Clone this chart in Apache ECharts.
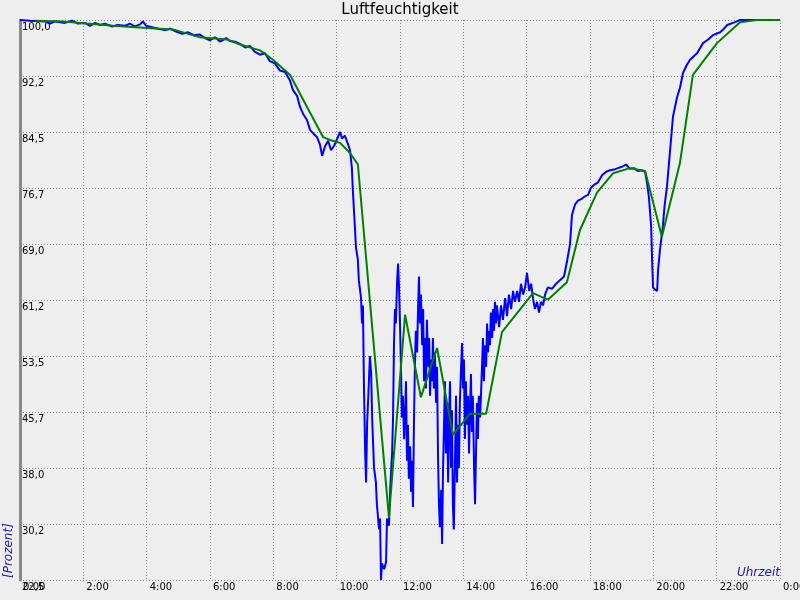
<!DOCTYPE html>
<html>
<head>
<meta charset="utf-8">
<script src="https://cdn.jsdelivr.net/npm/echarts@6/dist/echarts.min.js"></script>
<style>
html,body{margin:0;padding:0;background:#eeeeee;}
#c{width:800px;height:600px;}
</style>
</head>
<body>
<div id="c"></div>
<script>
// Time in hours since midnight
var blueTimes = [0.00,0.32,0.79,0.95,1.11,1.42,1.64,1.83,2.05,2.21,2.37,2.53,2.68,2.91,3.09,3.32,3.47,3.63,3.79,3.88,3.98,4.17,4.36,4.58,4.74,4.93,5.12,5.31,5.49,5.68,5.84,6.00,6.16,6.32,6.51,6.63,6.79,6.95,7.11,7.26,7.42,7.58,7.74,7.89,8.05,8.21,8.37,8.53,8.62,8.75,8.84,8.94,9.06,9.16,9.28,9.38,9.47,9.54,9.63,9.73,9.82,9.92,10.01,10.11,10.17,10.26,10.36,10.42,10.48,10.51,10.58,10.61,10.67,10.70,10.77,10.80,10.83,10.86,10.90,10.93,10.96,11.00,11.05,11.09,11.12,11.18,11.24,11.27,11.34,11.37,11.40,11.43,11.50,11.56,11.59,11.65,11.69,11.75,11.78,11.81,11.84,11.87,11.91,11.94,11.97,12.00,12.03,12.06,12.09,12.13,12.16,12.19,12.22,12.25,12.28,12.32,12.35,12.38,12.41,12.44,12.47,12.50,12.54,12.57,12.60,12.63,12.66,12.70,12.73,12.76,12.79,12.82,12.85,12.89,12.92,12.95,12.98,13.01,13.04,13.07,13.10,13.14,13.17,13.20,13.23,13.26,13.30,13.33,13.36,13.39,13.42,13.45,13.49,13.52,13.55,13.58,13.61,13.64,13.67,13.70,13.74,13.77,13.80,13.83,13.86,13.89,13.93,13.96,13.99,14.02,14.05,14.08,14.11,14.15,14.18,14.21,14.24,14.27,14.30,14.34,14.37,14.40,14.43,14.46,14.49,14.53,14.59,14.62,14.65,14.68,14.72,14.75,14.78,14.81,14.84,14.87,14.91,14.94,14.97,15.00,15.03,15.06,15.13,15.19,15.25,15.32,15.38,15.44,15.51,15.57,15.63,15.70,15.76,15.82,15.89,15.95,16.01,16.08,16.14,16.20,16.26,16.33,16.39,16.45,16.52,16.58,16.67,16.80,16.93,17.05,17.18,17.27,17.37,17.43,17.53,17.62,17.72,17.84,17.94,18.03,18.16,18.25,18.38,18.51,18.63,18.76,18.88,19.01,19.14,19.26,19.39,19.51,19.64,19.74,19.80,19.86,19.93,19.96,19.99,20.05,20.12,20.15,20.21,20.30,20.36,20.43,20.53,20.62,20.75,20.84,20.94,21.06,21.16,21.38,21.57,21.73,21.88,22.11,22.23,22.33,22.58,22.74,24.00];
var blueHumidity = [100.0,99.9,99.8,99.5,99.8,99.6,99.9,99.5,99.6,99.2,99.6,99.3,99.5,99.1,99.3,99.2,99.5,99.1,99.4,99.8,99.2,99.0,98.8,98.6,98.8,98.4,98.1,98.3,97.9,98.0,97.5,97.2,97.6,97.0,97.5,97.1,97.0,96.7,96.2,96.4,95.6,95.2,95.4,94.3,94.0,93.0,92.8,91.6,90.3,89.5,88.0,87.0,86.2,84.8,84.2,83.8,82.8,81.2,82.5,83.3,82.0,82.6,83.5,84.5,83.6,84.0,82.8,82.0,79.6,76.5,71.0,68.5,66.8,64.0,61.5,58.0,60.5,50.0,40.0,36.0,44.0,48.0,53.5,51.0,45.0,38.0,36.0,33.0,29.5,31.0,22.5,24.8,24.0,25.0,31.0,30.0,35.0,40.0,45.0,55.0,60.0,58.0,64.0,66.3,63.0,58.0,52.0,45.0,48.0,42.0,45.5,50.0,39.0,44.0,36.5,41.0,34.7,39.0,32.6,44.0,52.0,57.0,54.0,60.0,64.5,58.0,62.0,55.0,60.0,50.0,56.0,49.0,58.5,52.0,56.0,48.0,53.0,50.0,56.0,49.0,54.0,47.0,52.0,40.0,33.0,29.8,35.0,27.5,38.0,44.0,50.0,40.0,47.0,36.0,45.0,50.0,38.0,46.0,33.0,29.5,40.0,48.0,36.0,44.0,38.0,47.0,52.0,55.3,49.0,53.0,42.0,50.0,44.0,48.0,40.0,46.0,51.0,43.0,48.0,38.0,33.0,40.0,47.0,42.0,48.0,45.0,52.0,56.0,50.0,55.0,52.0,58.0,54.0,57.0,55.0,59.5,56.0,60.0,57.0,61.0,58.0,60.5,57.5,60.5,58.5,61.5,59.0,62.0,60.0,62.5,61.0,62.5,61.0,63.5,62.0,63.0,65.0,62.5,63.5,61.5,60.0,61.0,59.5,61.0,60.5,62.0,63.0,62.8,63.5,64.0,64.5,66.5,69.0,73.0,74.5,75.0,75.2,75.6,75.8,76.8,77.3,77.5,78.5,79.0,79.2,79.3,79.5,79.7,80.0,79.4,79.5,79.1,79.2,79.0,77.5,75.5,71.5,67.0,63.0,62.7,62.5,65.4,68.2,71.4,74.5,76.9,82.0,86.6,89.3,90.6,92.7,93.8,94.5,95.4,96.8,97.3,97.9,98.3,98.8,99.3,99.7,100.0,100.0];

var greenTimes = [0.47,1.36,2.12,2.94,4.01,4.83,5.68,6.54,6.95,7.58,7.99,8.53,9.06,9.57,9.79,10.11,10.42,10.67,11.65,12.16,12.66,13.17,13.67,14.21,14.72,15.22,16.20,16.67,17.27,17.68,18.22,18.73,19.26,19.74,20.27,20.84,21.25,22.01,22.74,23.27,24.00];
var greenHumidity = [99.9,99.8,99.5,99.2,98.9,98.7,97.6,97.3,96.6,95.8,94.5,92.4,88.0,83.8,83.4,83.0,81.6,80.0,31.2,59.2,47.8,54.6,42.6,45.5,45.5,56.8,62.2,61.3,63.7,70.9,76.1,78.8,79.5,79.1,70.0,80.2,92.4,96.8,99.7,100.0,100.0];

var xTickLabels = ['0:00','2:00','4:00','6:00','8:00','10:00','12:00','14:00','16:00','18:00','20:00','22:00','0:00'];
var yMin = 22.5, yMax = 100, yStep = 7.75;

function pairs(t, v){ var out=[]; for(var i=0;i<t.length;i++) out.push([t[i], v[i]]); return out; }

var chart = echarts.init(document.getElementById('c'), null, {renderer:'canvas'});
var font = 'DejaVu Sans';
chart.setOption({
  backgroundColor: '#eeeeee',
  animation: false,
  title: {
    text: 'Luftfeuchtigkeit', left: 'center', top: -2,
    textStyle: {fontFamily: font, fontSize: 15, fontWeight: 'normal', color: '#000'}
  },
  grid: {left: 20, right: 20, top: 20, bottom: 20, containLabel: false, outerBoundsMode: 'none'},
  xAxis: {
    type: 'value', min: 0, max: 24, interval: 2,
    axisLine: {show: false}, axisTick: {show: false},
    axisLabel: {
      fontFamily: font, fontSize: 10, color: '#000', margin: 2, align: 'left', padding: [0,0,0,3],
      showMinLabel: true, showMaxLabel: true, hideOverlap: false,
      formatter: function(v){ return xTickLabels[Math.round(v/2)]; }
    },
    splitLine: {show: true, lineStyle: {color: '#808080', width: 1, type: [1,2]}}
  },
  yAxis: {
    type: 'value', min: yMin, max: yMax, interval: yStep,
    axisLine: {show: true, lineStyle: {color: '#888888', width: 3}},
    axisTick: {show: false},
    axisLabel: {
      inside: true, fontFamily: font, fontSize: 10, color: '#000', margin: 2,
      verticalAlign: 'top', padding: [2,0,0,0],
      showMinLabel: true, showMaxLabel: true,
      formatter: function(v){ var t = Math.floor(v*10+1e-6)/10; return t.toFixed(1).replace('.', ','); }
    },
    splitLine: {show: true, lineStyle: {color: '#808080', width: 1, type: [1,2]}}
  },
  graphic: [
    {type: 'text', x: 15, y: 578, rotation: Math.PI/2,
     style: {text: '[Prozent]', fill: '#2020a0', font: 'italic 12px "DejaVu Sans"', textAlign: 'left', textVerticalAlign: 'bottom'}},
    {type: 'text', x: 780, y: 579,
     style: {text: 'Uhrzeit', fill: '#2020a0', font: 'italic 12px "DejaVu Sans"', textAlign: 'right', textVerticalAlign: 'bottom'}}
  ],
  series: [
    {type: 'line', data: pairs(blueTimes, blueHumidity), showSymbol: false, lineStyle: {color: '#0000ff', width: 2}, itemStyle:{color:'#0000ff'}, z: 2},
    {type: 'line', data: pairs(greenTimes, greenHumidity), showSymbol: false, lineStyle: {color: '#008000', width: 2}, itemStyle:{color:'#008000'}, z: 3}
  ]
});
</script>
</body>
</html>
